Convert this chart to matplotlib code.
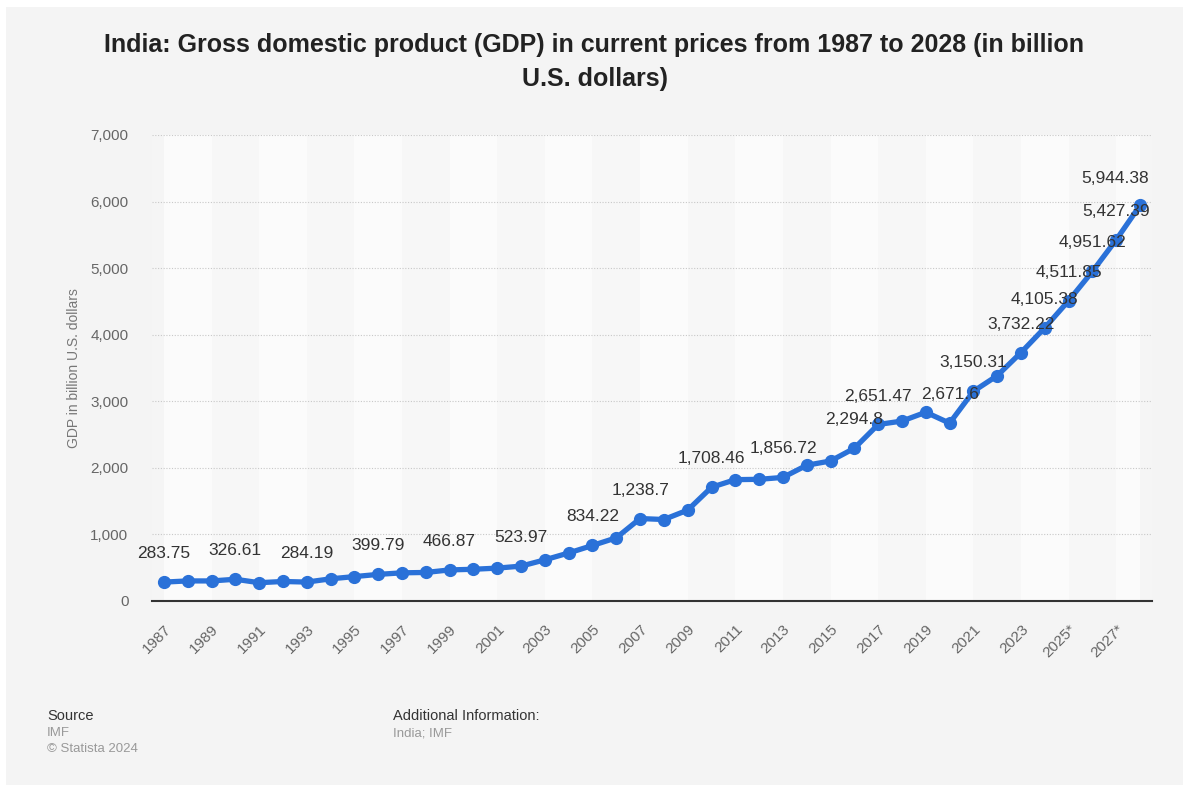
import matplotlib.pyplot as plt
from matplotlib.patches import Rectangle
from matplotlib.ticker import FuncFormatter

# GDP in billion U.S. dollars (IMF)
years = list(range(1987, 2029))
gdp = [283.75, 301.7, 301.23, 326.61, 274.84, 293.26, 284.19, 333.01, 366.6,
       399.79, 423.16, 428.74, 466.87, 476.64, 493.93, 523.97, 618.37, 721.59,
       834.22, 949.12, 1238.7, 1224.1, 1365.37, 1708.46, 1823.05, 1827.64,
       1856.72, 2039.13, 2103.59, 2294.8, 2651.47, 2702.93, 2835.61, 2671.6,
       3150.31, 3385.09, 3732.22, 4105.38, 4511.85, 4951.62, 5427.39, 5944.38]
labeled_years = [1987, 1990, 1993, 1996, 1999, 2002, 2005, 2007, 2010, 2013,
                 2016, 2017, 2020, 2021, 2023, 2024, 2025, 2026, 2027, 2028]
tick_years = list(range(1987, 2029, 2))
tick_labels = [str(y) + ("*" if y >= 2025 else "") for y in tick_years]

plt.rcParams['font.family'] = ['Liberation Sans', 'DejaVu Sans']

fig = plt.figure(figsize=(11.89, 7.93), dpi=100, facecolor='white')
fig.patches.append(Rectangle((6 / 1189, 8 / 793), 1177 / 1189, 778 / 793,
                             transform=fig.transFigure, facecolor='#f4f4f4',
                             edgecolor='none', zorder=-10))

ax = fig.add_axes([152 / 1189, 1 - 601 / 793, 1000 / 1189, 466 / 793])
ax.set_facecolor('#f5f5f5')

# alternating column bands, two years wide
for i, y in enumerate(range(1987, 2028, 2)):
    ax.axvspan(y, min(y + 2, 2028), color='#fbfbfb' if i % 2 == 0 else '#f7f7f7',
               lw=0, zorder=0)

ax.plot(years, gdp, color='#2a71d8', lw=3.8, marker='o', markersize=8.5,
        solid_capstyle='round', zorder=3)

for y, v in zip(years, gdp):
    if y in labeled_years:
        txt = f"{v:,.2f}".rstrip('0').rstrip('.')
        if y == years[-1]:
            ax.annotate(txt, (y, v), xytext=(6.5, 19), textcoords='offset points',
                        ha='right', va='center', fontsize=12.5, color='#333333',
                        zorder=4)
        else:
            ax.annotate(txt, (y, v), xytext=(0, 20.5), textcoords='offset points',
                        ha='center', va='center', fontsize=12.5, color='#333333',
                        zorder=4)

ax.set_xlim(1986.5, 2028.5)
ax.set_ylim(0, 7000)
ax.set_yticks(range(0, 7001, 1000))
ax.yaxis.set_major_formatter(FuncFormatter(lambda v, p: f"{int(v):,}"))
ax.grid(axis='y', color='#c8c8c8', ls=(0, (1, 1.5)), lw=0.8)
ax.set_axisbelow(True)
ax.set_xticks(tick_years)
ax.set_xticklabels(tick_labels, rotation=45, ha='right', rotation_mode='anchor')
ax.tick_params(axis='both', length=0, labelsize=11, labelcolor='#666666')
ax.tick_params(axis='x', pad=15)
ax.tick_params(axis='y', pad=17)
for s in ['top', 'right', 'left']:
    ax.spines[s].set_visible(False)
ax.spines['bottom'].set_color('#333333')
ax.spines['bottom'].set_linewidth(1.5)
ax.set_ylabel('GDP in billion U.S. dollars', fontsize=10, color='#777777',
              labelpad=7)

fig.text(0.5, 1 - 62 / 793, 'India: Gross domestic product (GDP) in current prices from 1987 to 2028 (in billion\nU.S. dollars)',
         ha='center', va='center', fontsize=18, fontweight='bold',
         color='#222222', linespacing=1.5)

fig.text(47 / 1189, 1 - 716 / 793, 'Source', fontsize=10.5, color='#333333', va='center')
fig.text(47 / 1189, 1 - 733 / 793, 'IMF', fontsize=9.5, color='#999999', va='center')
fig.text(47 / 1189, 1 - 749 / 793, '© Statista 2024', fontsize=9.5, color='#999999', va='center')
fig.text(393 / 1189, 1 - 716 / 793, 'Additional Information:', fontsize=10.5, color='#333333', va='center')
fig.text(393 / 1189, 1 - 733 / 793, 'India; IMF', fontsize=9.5, color='#999999', va='center')

fig.savefig('out.png', dpi=100, facecolor='white')
